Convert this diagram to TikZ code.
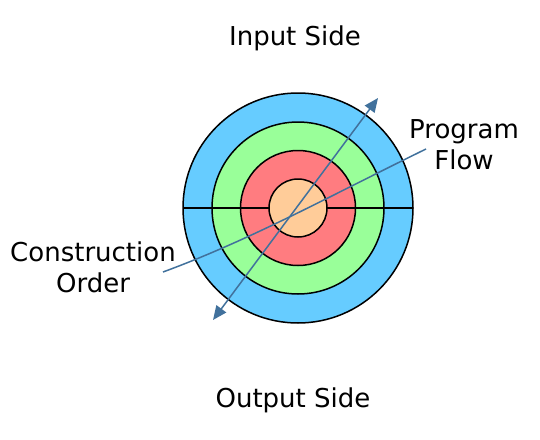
\documentclass[tikz,border=0pt]{standalone}
\usepackage{fontspec}
\setmainfont{DejaVu Sans}
\usetikzlibrary{arrows.meta,calc}
\definecolor{ringblue}{HTML}{66CCFF}
\definecolor{ringgreen}{HTML}{99FF99}
\definecolor{ringred}{HTML}{FF7C80}
\definecolor{ringcore}{HTML}{FFCC99}
\definecolor{flowline}{HTML}{41719C}

\begin{document}
\begin{tikzpicture}[x=1pt,y=-1pt,
  ring/.style={draw=black,line width=1.5pt},
  label/.style={font=\fontsize{26}{31}\selectfont,align=center,inner sep=0pt}]
\useasboundingbox (0,0) rectangle (540,439);
\coordinate (O) at (298,208);

\draw [ring,fill=ringblue] (O) circle(115);
\draw [ring,fill=ringgreen] (O) circle(86);
\draw [ring,fill=ringred] (O) circle(57.5);
\draw [line width=1.5pt] ($(O)+(-115,0)$) -- ($(O)+(115,0)$);
\draw [ring,fill=ringcore] (O) circle(29);

\coordinate (A) at (213,320);
\coordinate (B) at (378,98);
\draw [flowline,line width=1.5pt,{Triangle[length=14pt,width=12pt]}-{Triangle[length=14pt,width=12pt]}] (A) -- (B);

\coordinate (C) at (163,272);
\coordinate (D) at (426,149);
\draw [flowline,line width=1.5pt] (C) .. controls (250,240) and (330,196) .. (D);

\node [label] (in) at (295,38) {Input Side};
\node [label] (out) at (293,400) {Output Side};
\node [label] (flow) at (464,145) {Program\\Flow};
\node [label] (order) at (93,267) {Construction\\Order};

\end{tikzpicture}
\end{document}
